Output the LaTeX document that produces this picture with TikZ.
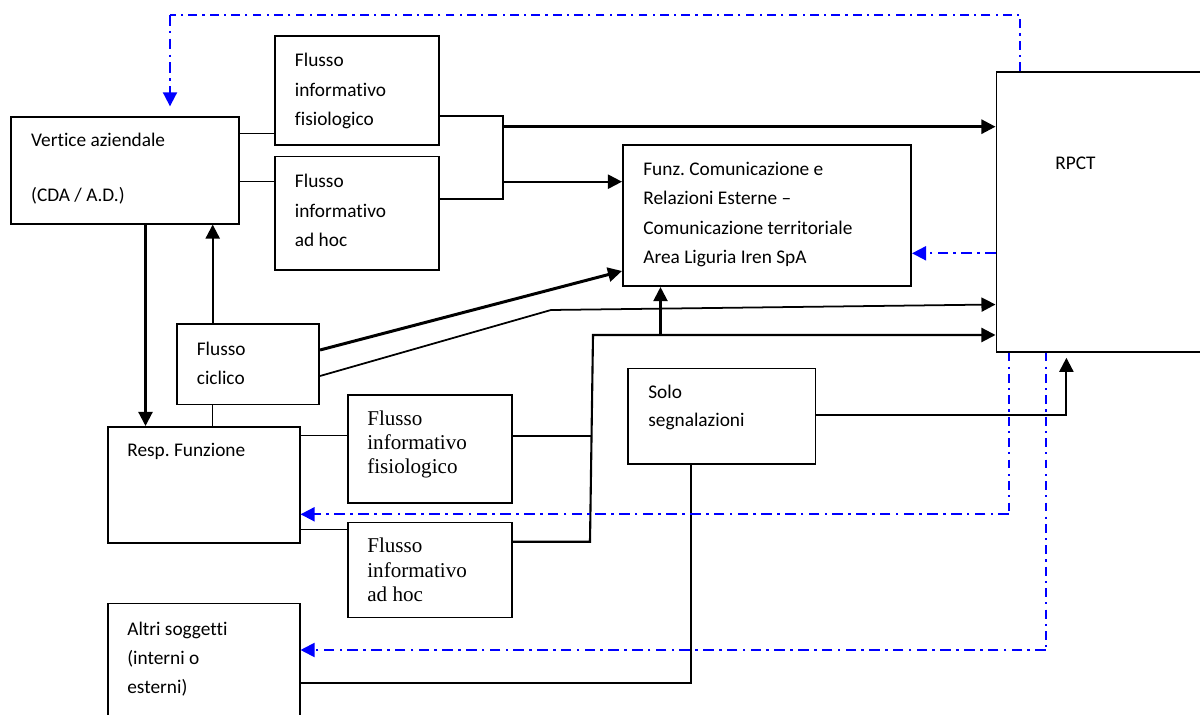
\documentclass[tikz,border=0pt]{standalone}
\usepackage{fontspec}
\setmainfont{Carlito}[Ligatures=NoCommon]
\newfontfamily\tnr{Liberation Serif}
\usetikzlibrary{positioning,calc,arrows.meta}
\frenchspacing

\begin{document}
\begin{tikzpicture}[x=0.02cm, y=-0.02cm,
		blk/.style={draw, line width=0.9pt, inner sep=0pt, anchor=north west},
		lbl/.style={anchor=base west, inner sep=0pt, align=left, font=\fontsize{11}{16.8}\selectfont},
		lblt/.style={anchor=base west, inner sep=0pt, align=left, font=\tnr\fontsize{12}{13.9}\selectfont},
		ln/.style={line width=0.8pt},
		tip/.style={-{Triangle[length=8pt, width=8pt]}},
		arr/.style={line width=1.2pt, tip},
		blu/.style={blue, line width=1.1pt, dash pattern=on 6pt off 3pt on 1.5pt off 3pt},
		bluthin/.style={blue, line width=0.9pt, dash pattern=on 5pt off 3pt on 1.2pt off 3pt}]
		\useasboundingbox (0,0) rectangle (1200,715);

		% boxes
		\node[blk, minimum width=4.56cm, minimum height=2.14cm] (vert) at (10,116) {};
		\node[blk, minimum width=3.28cm, minimum height=2.17cm] (fif1) at (274,35.5) {};
		\node[blk, minimum width=3.28cm, minimum height=2.27cm] (fah1) at (274,155.7) {};
		\node[blk, minimum width=5.77cm, minimum height=2.83cm] (funz) at (622,144) {};
		\node[blk, minimum width=4.3cm, minimum height=5.6cm] (rpct) at (995.5,71) {};
		\node[blk, minimum width=2.85cm, minimum height=1.61cm] (cicl) at (176,323.3) {};
		\node[blk, minimum width=3.84cm, minimum height=2.32cm] (resp) at (107,426) {};
		\node[blk, minimum width=3.28cm, minimum height=2.16cm] (fif2) at (347,394.3) {};
		\node[blk, minimum width=3.28cm, minimum height=1.9cm] (fah2) at (347,521.7) {};
		\node[blk, minimum width=3.75cm, minimum height=1.91cm] (solo) at (627.4,367.7) {};
		\node[blk, minimum width=3.84cm, minimum height=2.6cm] (altri) at (107,602.7) {};

		% texts (placed by the baseline of their last line)
		\node[lbl, font=\fontsize{11}{15.8}\selectfont] (vertT) at (30.8,201.7) {Vertice aziendale\\[15.8pt](CDA / A.D.)};
		\node[lbl] (fif1T) at (294.6,125.7) {Flusso\\informativo\\fisiologico};
		\node[lbl] (fah1T) at (294.6,246.7) {Flusso\\informativo\\ad hoc};
		\node[lbl] (funzT) at (643,264) {Funz. Comunicazione e\\Relazioni Esterne --\\Comunicazione territoriale\\Area Liguria Iren SpA};
		\node[lbl] (rpctT) at (1055,170) {RPCT};
		\node[lbl] (ciclT) at (196.5,385) {Flusso\\ciclico};
		\node[lbl] (respT) at (127,456.7) {Resp. Funzione};
		\node[lblt] (fif2T) at (367,474) {Flusso\\informativo\\fisiologico};
		\node[lblt] (fah2T) at (367,601.7) {Flusso\\informativo\\ad hoc};
		\node[lbl, font=\fontsize{11}{16}\selectfont] (soloT) at (648,427) {Solo\\segnalazioni};
		\node[lbl, font=\fontsize{11}{16.4}\selectfont] (altriT) at (127,693) {Altri soggetti\\(interni o\\esterni)};

		% upper flows
		\draw[ln] (vert.east |- 0,133.3) -- (fif1.west |- 0,133.3);
		\draw[ln] (vert.east |- 0,181.7) -- (fah1.west |- 0,181.7);
		\coordinate (j1) at (503,126.7);
		\coordinate (j2) at (503,181.7);
		\draw[ln, line width=1pt] (fif1.east |- 0,115.7) -| (j2) |- (fah1.east |- 0,199.3);
		\draw[arr, line width=1.5pt] (j1) -- (j1 -| rpct.west);
		\draw[arr] (j2) -- (j2 -| funz.west);

		\draw[arr] (vert.south -| 145.5,0) -- (resp.north -| 145.5,0);
		\draw[arr] (cicl.north -| 212.7,0) -- (vert.south -| 212.7,0);
		\draw[ln] (cicl.south -| 212.7,0) -- (resp.north -| 212.7,0);

		% cyclic flow
		\draw[arr, line width=1.7pt] (cicl.east |- 0,350) -- (funz.west |- 0,271);
		\coordinate (k1) at (551,310);
		\draw[arr, line width=1pt] (cicl.east |- 0,376) -- (k1) -- (rpct.west |- 0,304.5);

		% lower flows
		\draw[ln] (resp.east |- 0,435.7) -- (fif2.west |- 0,435.7);
		\draw[ln] (resp.east |- 0,529.3) -- (fah2.west |- 0,529.3);
		\coordinate (j3) at (590,541.7);
		\coordinate (j4) at (593,335);
		\coordinate (j5) at (660.5,335);
		\draw[ln, line width=1pt] (fif2.east |- 0,435.7) -- (591.5,435.7);
		\draw[arr] (fah2.east |- 0,541.7) -- (j3) -- (j4) -- (j4 -| rpct.west);
		\draw[arr] (j5) -- (funz.south -| j5);

		\draw[arr, shorten >=3pt] (solo.east |- 0,415.3) -| (rpct.south -| 1066.4,0);
		\draw[ln, line width=1pt] (solo.south -| 690.7,0) |- (altri.east |- 0,683.3);

		% feedback (blue)
		\coordinate (b1) at (1020,15);
		\coordinate (b2) at (170,15);
		\draw[bluthin] (rpct.north -| b1) -- (b1) -- (b2);
		\draw[blu, tip, shorten >=5.5pt] (b2) -- (vert.north -| b2);
		\draw[blu, tip] (rpct.west |- 0,253.3) -- (funz.east |- 0,253.3);
		\coordinate (b3) at (1009,514.3);
		\draw[bluthin] (rpct.south -| b3) -- (b3);
		\draw[blu, tip] (b3) -- (resp.east |- b3);
		\coordinate (b4) at (1045.8,650);
		\draw[bluthin] (rpct.south -| b4) -- (b4);
		\draw[blu, tip] (b4) -- (altri.east |- b4);
	\end{tikzpicture}
\end{document}
